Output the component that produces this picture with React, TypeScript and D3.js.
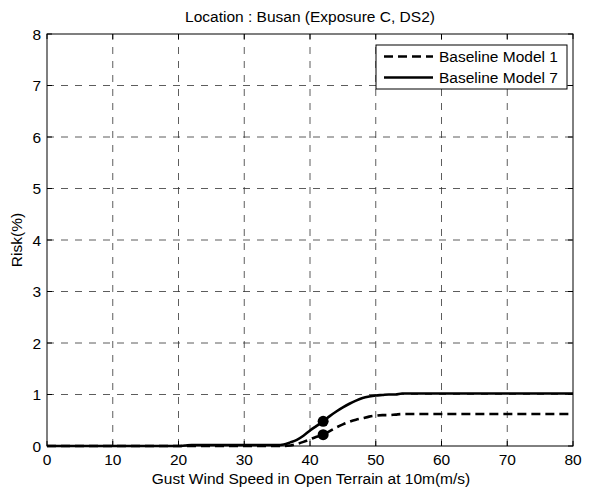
import { useEffect, useRef } from 'react';
import * as d3 from 'd3';

// Baseline Model 7 (solid)
const model7X = [0, 20, 21, 22, 30, 35, 36, 37, 38, 39, 40, 41, 42, 43, 44, 45, 46, 47, 48, 49, 50, 51, 52, 53, 54, 60, 70, 80];
const model7Y = [0, 0, 0.01, 0.02, 0.02, 0.02, 0.03, 0.07, 0.12, 0.2, 0.3, 0.39, 0.48, 0.58, 0.67, 0.75, 0.82, 0.88, 0.93, 0.96, 0.98, 0.99, 1.0, 1.0, 1.02, 1.02, 1.02, 1.02];

// Baseline Model 1 (dashed)
const model1X = [0, 30, 36, 37, 38, 39, 40, 41, 42, 43, 44, 45, 46, 47, 48, 49, 50, 51, 52, 53, 54, 60, 70, 80];
const model1Y = [0, 0, 0, 0.01, 0.04, 0.08, 0.13, 0.18, 0.22, 0.29, 0.36, 0.42, 0.47, 0.51, 0.54, 0.57, 0.59, 0.6, 0.6, 0.61, 0.62, 0.62, 0.62, 0.62];

// marked points
const markX = [42, 42];
const markY = [0.48, 0.22];

const xTicks = [0, 10, 20, 30, 40, 50, 60, 70, 80];
const yTicks = [0, 1, 2, 3, 4, 5, 6, 7, 8];

const legendLabels = ['Baseline Model 1', 'Baseline Model 7'];

const W = 590;
const H = 488;

export default function App() {
  const svgRef = useRef<SVGSVGElement>(null);

  useEffect(() => {
    if (!svgRef.current) return;
    const svg = d3.select(svgRef.current);
    svg.selectAll('*').remove();

    const font = 'Liberation Sans, Arial, Helvetica, sans-serif';
    const fs = 15.5;
    const x = d3.scaleLinear().domain([0, 80]).range([47, 573]);
    const y = d3.scaleLinear().domain([0, 8]).range([446, 34]);

    svg.append('rect').attr('width', W).attr('height', H).attr('fill', '#fff');

    // grid
    const grid = svg.append('g');
    xTicks.slice(1, -1).forEach(t => {
      grid.append('line')
        .attr('x1', x(t)).attr('x2', x(t))
        .attr('y1', y(0)).attr('y2', y(8))
        .attr('stroke', '#333').attr('stroke-width', 0.8)
        .attr('stroke-dasharray', '7,7');
    });
    yTicks.slice(1, -1).forEach(t => {
      grid.append('line')
        .attr('x1', x(0)).attr('x2', x(80))
        .attr('y1', y(t)).attr('y2', y(t))
        .attr('stroke', '#333').attr('stroke-width', 0.8)
        .attr('stroke-dasharray', '7,7');
    });

    // tick marks inside
    const ticks = svg.append('g').attr('stroke', '#000').attr('stroke-width', 1);
    xTicks.forEach(t => {
      ticks.append('line').attr('x1', x(t)).attr('x2', x(t)).attr('y1', y(0)).attr('y2', y(0) - 5);
      ticks.append('line').attr('x1', x(t)).attr('x2', x(t)).attr('y1', y(8)).attr('y2', y(8) + 5);
    });
    yTicks.forEach(t => {
      ticks.append('line').attr('x1', x(0)).attr('x2', x(0) + 5).attr('y1', y(t)).attr('y2', y(t));
      ticks.append('line').attr('x1', x(80)).attr('x2', x(80) - 5).attr('y1', y(t)).attr('y2', y(t));
    });

    // box
    svg.append('rect')
      .attr('x', x(0)).attr('y', y(8))
      .attr('width', x(80) - x(0)).attr('height', y(0) - y(8))
      .attr('fill', 'none').attr('stroke', '#000').attr('stroke-width', 1);

    // tick labels
    xTicks.forEach(t => {
      svg.append('text')
        .attr('x', x(t)).attr('y', y(0) + 19)
        .attr('text-anchor', 'middle')
        .attr('font-family', font).attr('font-size', fs)
        .text(t);
    });
    yTicks.forEach(t => {
      svg.append('text')
        .attr('x', x(0) - 6).attr('y', y(t) + 5.5)
        .attr('text-anchor', 'end')
        .attr('font-family', font).attr('font-size', fs)
        .text(t);
    });

    // lines
    const line = d3.line<[number, number]>()
      .x(d => x(d[0])).y(d => y(d[1]))
      .curve(d3.curveMonotoneX);

    svg.append('path')
      .attr('d', line(model1X.map((v, i) => [v, model1Y[i]]) as [number, number][]))
      .attr('fill', 'none').attr('stroke', '#000').attr('stroke-width', 2.6)
      .attr('stroke-dasharray', '9,5');

    svg.append('path')
      .attr('d', line(model7X.map((v, i) => [v, model7Y[i]]) as [number, number][]))
      .attr('fill', 'none').attr('stroke', '#000').attr('stroke-width', 2.6);

    markX.forEach((v, i) => {
      svg.append('circle')
        .attr('cx', x(v)).attr('cy', y(markY[i]))
        .attr('r', 5.5).attr('fill', '#000');
    });

    // legend
    const lg = svg.append('g');
    lg.append('rect')
      .attr('x', 376).attr('y', 45).attr('width', 191).attr('height', 44)
      .attr('fill', '#fff').attr('stroke', '#000').attr('stroke-width', 1);
    legendLabels.forEach((lab, i) => {
      const ly = 56.5 + i * 21;
      lg.append('line')
        .attr('x1', 384).attr('x2', 433).attr('y1', ly).attr('y2', ly)
        .attr('stroke', '#000').attr('stroke-width', 2.6)
        .attr('stroke-dasharray', i === 0 ? '9,5' : null);
      lg.append('text')
        .attr('x', 439).attr('y', ly + 5.5)
        .attr('font-family', font).attr('font-size', fs)
        .text(lab);
    });

    // titles
    svg.append('text')
      .attr('x', 310).attr('y', 22)
      .attr('text-anchor', 'middle')
      .attr('font-family', font).attr('font-size', fs)
      .text('Location : Busan (Exposure C, DS2)');

    svg.append('text')
      .attr('x', 311).attr('y', 484)
      .attr('text-anchor', 'middle')
      .attr('font-family', font).attr('font-size', fs)
      .text('Gust Wind Speed in Open Terrain at 10m(m/s)');

    svg.append('text')
      .attr('transform', `translate(22, ${(y(0) + y(8)) / 2}) rotate(-90)`)
      .attr('text-anchor', 'middle')
      .attr('font-family', font).attr('font-size', fs)
      .text('Risk(%)');
  }, []);

  return (
    <svg
      ref={svgRef}
      width={W}
      height={H}
      style={{ position: 'absolute', left: 0, top: 0, display: 'block' }}
    />
  );
}
